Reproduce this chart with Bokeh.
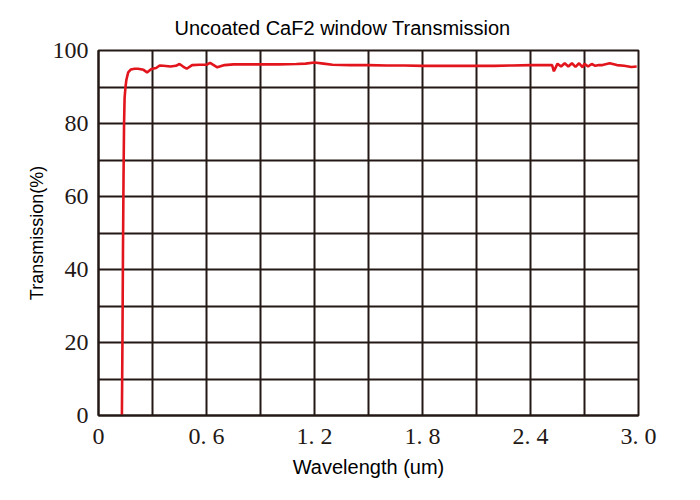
from bokeh.plotting import figure
from bokeh.models import FixedTicker, Range1d, Title
from bokeh.embed import file_html
from bokeh.resources import INLINE

wavelength = [0.130, 0.133, 0.136, 0.139, 0.142, 0.145, 0.150, 0.155, 0.165, 0.18, 0.20, 0.22,
              0.25, 0.27, 0.29, 0.30, 0.32, 0.34, 0.36, 0.40, 0.43, 0.45, 0.47, 0.49, 0.52,
              0.56, 0.60, 0.62, 0.64, 0.66, 0.70, 0.75, 0.80, 0.90, 1.00, 1.10, 1.15, 1.20,
              1.25, 1.30, 1.40, 1.50, 1.60, 1.70, 1.80, 1.90, 2.00, 2.10, 2.20, 2.30, 2.40,
              2.45, 2.52, 2.53, 2.55, 2.57, 2.59, 2.61, 2.63, 2.65, 2.67, 2.69, 2.70, 2.72,
              2.74, 2.76, 2.78, 2.80, 2.84, 2.88, 2.92, 2.96, 2.99]
transmission = [0.0, 20.0, 45.0, 65.0, 80.0, 87.0, 90.0, 92.0, 94.0, 94.8, 95.0, 95.0,
                94.7, 94.0, 94.8, 95.0, 95.2, 95.9, 95.8, 95.6, 95.8, 96.3, 95.6, 95.0, 96.0,
                96.1, 96.1, 96.6, 96.0, 95.4, 96.0, 96.2, 96.2, 96.2, 96.2, 96.3, 96.4, 96.7,
                96.4, 96.1, 96.0, 96.0, 95.9, 95.9, 95.8, 95.8, 95.8, 95.8, 95.8, 95.9, 96.0,
                96.0, 96.0, 94.3, 96.4, 95.6, 96.5, 95.6, 96.5, 95.5, 96.5, 95.4, 96.4, 95.6,
                96.3, 95.8, 96.0, 96.0, 96.5, 96.0, 95.8, 95.5, 95.6]

x_ticks = [0, 0.6, 1.2, 1.8, 2.4, 3.0]
x_tick_labels = ["0", "0. 6", "1. 2", "1. 8", "2. 4", "3. 0"]
x_grid = [0.3 * i for i in range(11)]
y_ticks = [0, 20, 40, 60, 80, 100]
y_grid = list(range(0, 101, 10))

p = figure(width=684, height=484, output_backend="svg", toolbar_location=None,
           x_range=Range1d(0, 3.0), y_range=Range1d(0, 100),
           min_border_left=98, min_border_right=46, min_border_top=50, min_border_bottom=69)

p.title = Title(text="Uncoated CaF2 window Transmission", align="left",
                text_font="Liberation Sans", text_font_size="20px", text_font_style="normal",
                text_color="black", offset=76, standoff=24)

p.line(wavelength, transmission, line_color="#e2141c", line_width=2.6)

p.xaxis.ticker = FixedTicker(ticks=x_ticks)
p.xaxis.major_label_overrides = {t: l for t, l in zip(x_ticks, x_tick_labels)}
p.yaxis.ticker = FixedTicker(ticks=y_ticks)
p.xgrid.ticker = FixedTicker(ticks=x_grid)
p.ygrid.ticker = FixedTicker(ticks=y_grid)

for g in (p.xgrid, p.ygrid):
    g.grid_line_color = "#231815"
    g.grid_line_width = 2
    g.grid_line_alpha = 1

p.outline_line_color = "#231815"
p.outline_line_width = 2

for ax in (p.xaxis, p.yaxis):
    ax.axis_line_color = "#231815"
    ax.axis_line_width = 2
    ax.major_tick_line_color = None
    ax.minor_tick_line_color = None
    ax.major_label_text_font = "Liberation Serif"
    ax.major_label_text_font_size = "24px"
    ax.major_label_text_color = "#231815"
    ax.axis_label_text_font = "Liberation Sans"
    ax.axis_label_text_font_style = "normal"
    ax.axis_label_text_color = "black"

p.xaxis.axis_label = "Wavelength (um)"
p.yaxis.axis_label = "Transmission(%)"
p.xaxis.axis_label_text_font_size = "20px"
p.yaxis.axis_label_text_font_size = "18px"
p.xaxis.major_label_standoff = 1
p.yaxis.major_label_standoff = 4
p.xaxis.axis_label_standoff = 4
p.yaxis.axis_label_standoff = 3

p.background_fill_color = "white"
p.border_fill_color = "white"

open("out.html", "w").write(file_html(p, INLINE))
